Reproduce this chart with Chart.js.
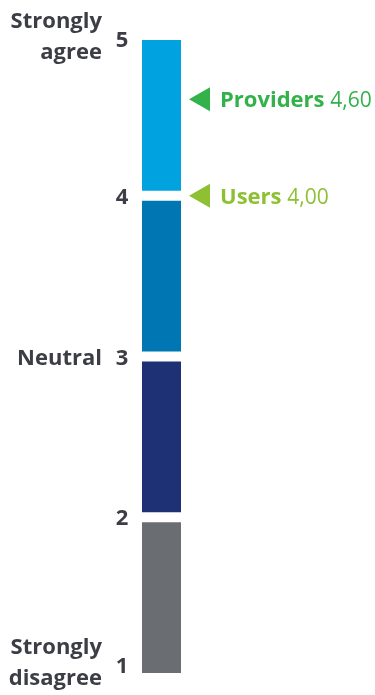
<!DOCTYPE html>
<html>
<head>
<meta charset="utf-8">
<script src="https://cdn.jsdelivr.net/npm/chart.js@4/dist/chart.umd.min.js"></script>
<style>
  html, body { margin: 0; padding: 0; background: #fff; }
  canvas { display: block; }
</style>
</head>
<body>
<canvas id="chart" width="375" height="695"></canvas>
<script>
// escala de acuerdo 1..5
const levels = [1, 2, 3, 4, 5];
const levelNames = {
    5: ['Strongly', 'agree'],
    3: ['Neutral'],
    1: ['Strongly', 'disagree']
};
// tramos de la barra
const segmentLow = [1, 2, 3, 4];
const segmentHigh = [2, 3, 4, 5];
const segmentColors = ['#6a6d72', '#1e3174', '#0076b3', '#00a3e0'];
// promedios por grupo
const groupNames = ['Providers', 'Users'];
const groupScores = [4.6, 4.0];
const groupColors = ['#33b24a', '#8dc033'];

const textColor = '#3d3e45';
const fontFamily = '"Open Sans", "Noto Sans", sans-serif';

const datasets = segmentLow.map((lo, i) => ({
    data: [[lo, segmentHigh[i]]],
    backgroundColor: segmentColors[i],
    borderColor: '#ffffff',
    borderWidth: { top: 5, bottom: 5, left: 0, right: 0 },
    borderSkipped: false,
    inflateAmount: 0,
    barThickness: 39,
    grouped: false
}));

//numeros y textos del eje
const scaleLabels = {
    id: 'scaleLabels',
    afterDraw(chart) {
        const { ctx, scales: { y } } = chart;
        ctx.save();
        ctx.fillStyle = textColor;
        ctx.font = `bold 22px ${fontFamily}`;
        ctx.textBaseline = 'alphabetic';
        levels.forEach(v => {
            let base = y.getPixelForValue(v) + 8;
            if (v === y.max) base = y.getPixelForValue(v) + 12; // que no se salga arriba
            if (v === y.min) base = y.getPixelForValue(v) - 5;  // ni abajo
            ctx.textAlign = 'center';
            ctx.fillText(String(v), 122, base);
            const name = levelNames[v];
            if (!name) return;
            ctx.textAlign = 'right';
            if (name.length === 1) {
                ctx.fillText(name[0], 102, base);
            } else {
                ctx.fillText(name[0], 102, base - 19);
                ctx.fillText(name[1], 102, base + 11.5);
            }
        });
        ctx.restore();
    }
};

//flechas con el promedio
const scoreMarkers = {
    id: 'scoreMarkers',
    afterDraw(chart) {
        const { ctx, scales: { y } } = chart;
        const bar = chart.getDatasetMeta(0).data[0];
        const tip = bar.x + bar.width / 2 + 8;
        ctx.save();
        groupNames.forEach((name, i) => {
            const cy = y.getPixelForValue(groupScores[i]);
            ctx.fillStyle = groupColors[i];
            ctx.beginPath();
            ctx.moveTo(tip, cy);
            ctx.lineTo(tip + 21, cy - 12);
            ctx.lineTo(tip + 21, cy + 12);
            ctx.closePath();
            ctx.fill();

            ctx.textAlign = 'left';
            ctx.textBaseline = 'alphabetic';
            ctx.font = `bold 22px ${fontFamily}`;
            const tx = tip + 31;
            ctx.fillText(name, tx, cy + 8);
            const w = ctx.measureText(name + ' ').width;
            ctx.font = `21px ${fontFamily}`;
            ctx.fillText(groupScores[i].toFixed(2).replace('.', ','), tx + w, cy + 8);
        });
        ctx.restore();
    }
};

const config = {
    type: 'bar',
    data: {
        labels: [''],
        datasets
    },
    options: {
        responsive: false,
        animation: false,
        layout: {
            padding: { top: 35, bottom: 17, left: 122, right: 174 }
        },
        scales: {
            x: { display: false },
            y: { display: false, min: 1, max: 5 }
        },
        plugins: {
            legend: { display: false },
            tooltip: { enabled: false }
        }
    },
    plugins: [scaleLabels, scoreMarkers]
};

new Chart(document.getElementById('chart'), config);
</script>
</body>
</html>
